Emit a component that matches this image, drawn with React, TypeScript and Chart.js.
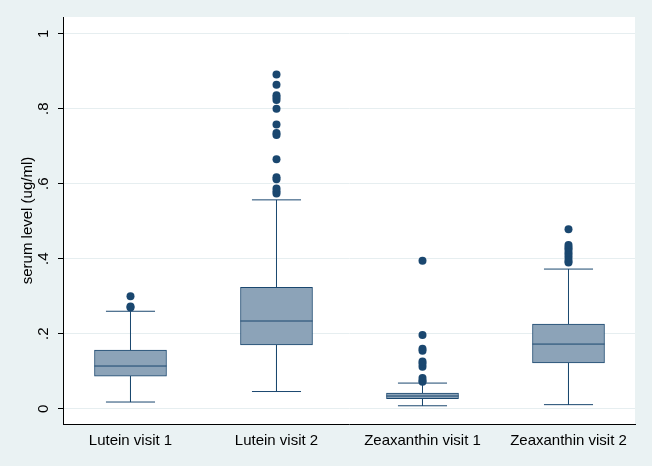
import React, { useEffect, useRef } from 'react';
import { Chart, registerables } from 'chart.js';

Chart.register(...registerables);

// ---- data ----
const categories = ['Lutein visit 1', 'Lutein visit 2', 'Zeaxanthin visit 1', 'Zeaxanthin visit 2'];
const lowerWhisker = [0.018, 0.046, 0.008, 0.011];
const q1 = [0.087, 0.170, 0.027, 0.122];
const median = [0.114, 0.234, 0.034, 0.1725];
const q3 = [0.1565, 0.3235, 0.042, 0.226];
const upperWhisker = [0.26, 0.557, 0.0685, 0.3725];
const outliersLutein1 = [0.27, 0.273, 0.30];
const outliersLutein2 = [0.574, 0.58, 0.587, 0.612, 0.617, 0.665, 0.73, 0.735, 0.758, 0.8, 0.823, 0.83, 0.836, 0.864, 0.891];
const outliersZea1 = [0.072, 0.075, 0.082, 0.112, 0.12, 0.126, 0.155, 0.16, 0.197, 0.395];
const outliersZea2 = [0.39, 0.395, 0.403, 0.41, 0.417, 0.425, 0.43, 0.437, 0.479];
const yTickValues = [0, 0.2, 0.4, 0.6, 0.8, 1];
const yTickLabels = ['0', '.2', '.4', '.6', '.8', '1'];
const yTitle = 'serum level (ug/ml)';

// ---- styles ----
const NAVY = '#1a476f';
const BOX_FILL = '#8ca3b8';
const OUTER_BG = '#eaf2f3';
const GRID = '#e6eef0';
const FONT = '"Liberation Sans", Arial, sans-serif';
const HALF_BOX = 0.247; // x units
const HALF_CAP = 0.168; // x units

const bgPlugin = {
  id: 'bgPlugin',
  beforeDraw(chart: any) {
    const { ctx, chartArea } = chart;
    ctx.save();
    ctx.fillStyle = OUTER_BG;
    ctx.fillRect(0, 0, chart.width, chart.height);
    ctx.fillStyle = '#ffffff';
    ctx.fillRect(chartArea.left, chartArea.top, chartArea.right - chartArea.left, chartArea.bottom - chartArea.top);
    ctx.restore();
  },
};

export default function App() {
  const ref = useRef<HTMLCanvasElement | null>(null);

  useEffect(() => {
    if (!ref.current) return;

    const outlierLists = [outliersLutein1, outliersLutein2, outliersZea1, outliersZea2];
    const outlierPoints: any[] = [];
    outlierLists.forEach((list, i) => list.forEach((v) => outlierPoints.push({ x: i, y: v })));

    const segs: any[] = [];
    categories.forEach((_, i) => {
      segs.push({ x: i - HALF_BOX, y: median[i] }, { x: i + HALF_BOX, y: median[i] }, { x: i, y: null });
      segs.push({ x: i, y: q3[i] }, { x: i, y: upperWhisker[i] }, { x: i, y: null });
      segs.push({ x: i, y: q1[i] }, { x: i, y: lowerWhisker[i] }, { x: i, y: null });
      segs.push({ x: i - HALF_CAP, y: upperWhisker[i] }, { x: i + HALF_CAP, y: upperWhisker[i] }, { x: i, y: null });
      segs.push({ x: i - HALF_CAP, y: lowerWhisker[i] }, { x: i + HALF_CAP, y: lowerWhisker[i] }, { x: i, y: null });
    });

    const chart = new Chart(ref.current, {
      type: 'bar',
      data: {
        datasets: [
          {
            type: 'bar',
            data: categories.map((_, i) => ({ x: i, y: [q1[i], q3[i]] })) as any,
            backgroundColor: BOX_FILL,
            borderColor: NAVY,
            borderWidth: 1,
            borderSkipped: false,
            barThickness: 72,
            order: 3,
          } as any,
          {
            type: 'line',
            data: segs,
            borderColor: NAVY,
            borderWidth: 1,
            pointRadius: 0,
            spanGaps: false,
            fill: false,
            tension: 0,
            order: 2,
          } as any,
          {
            type: 'scatter',
            data: outlierPoints,
            pointRadius: 4,
            pointBackgroundColor: NAVY,
            pointBorderWidth: 0,
            showLine: false,
            order: 1,
          } as any,
        ],
      },
      options: {
        responsive: false,
        animation: false,
        devicePixelRatio: 1,
        events: [],
        layout: { padding: { top: 17, right: 17, left: 0, bottom: 0 } },
        plugins: { legend: { display: false }, tooltip: { enabled: false } },
        scales: {
          x: {
            type: 'linear',
            min: -0.4623,
            max: 3.4555,
            offset: false,
            afterFit: (s: any) => { s.height = 42; },
            afterBuildTicks: (s: any) => { s.ticks = categories.map((_, i) => ({ value: i })); },
            grid: { display: false, drawTicks: false, tickLength: 0, offset: false },
            border: { display: true, color: '#000000', width: 1 },
            ticks: {
              autoSkip: false,
              maxRotation: 0,
              minRotation: 0,
              padding: 8,
              color: '#000000',
              font: { family: FONT, size: 15 },
              callback: (v: any) => categories[Math.round(Number(v))],
            },
          },
          y: {
            type: 'linear',
            min: -0.0406,
            max: 1.0446,
            afterFit: (s: any) => { s.width = 63; },
            afterBuildTicks: (s: any) => { s.ticks = yTickValues.map((v) => ({ value: v })); },
            grid: { color: GRID, lineWidth: 1, tickLength: 5, tickColor: '#000000', drawTicks: true },
            border: { display: true, color: '#000000', width: 1 },
            title: {
              display: true,
              text: yTitle,
              color: '#000000',
              font: { family: FONT, size: 15 },
              padding: { top: 19, bottom: 0 },
            },
            ticks: {
              minRotation: 90,
              maxRotation: 90,
              crossAlign: 'center',
              padding: 8,
              color: '#000000',
              font: { family: FONT, size: 15 },
              callback: (v: any) => {
                const idx = yTickValues.findIndex((t) => Math.abs(t - Number(v)) < 1e-9);
                return idx >= 0 ? yTickLabels[idx] : '';
              },
            },
          },
        },
      } as any,
      plugins: [bgPlugin],
    });

    return () => chart.destroy();
  }, []);

  return (
    <div style={{ position: 'absolute', left: 0, top: 0, width: 652, height: 466, background: OUTER_BG }}>
      <canvas ref={ref} width={652} height={466} style={{ display: 'block', width: 652, height: 466 }} />
    </div>
  );
}
